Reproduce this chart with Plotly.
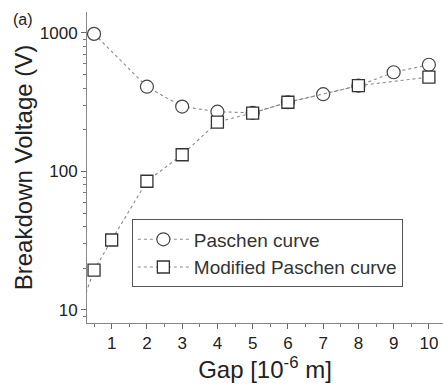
import plotly.graph_objects as go

gap_paschen = [0.5, 2, 3, 4, 5, 6, 7, 8, 9, 10]
volt_paschen = [984, 409, 294, 270, 265, 316, 361, 416, 520, 589]

gap_modified = [0.1, 0.5, 1, 2, 3, 4, 5, 6, 8, 10]
volt_modified = [10, 19.4, 32, 85, 132, 227, 264, 316, 416, 480]

x_ticks = [1, 2, 3, 4, 5, 6, 7, 8, 9, 10]
y_ticks = [10, 100, 1000]

FONT = "Liberation Sans, Arial, sans-serif"
line_style = dict(color="#8a8a8a", width=1.1, dash="dot")

fig = go.Figure()
fig.add_trace(go.Scatter(
    x=gap_paschen, y=volt_paschen, mode="lines+markers", name="Paschen curve",
    line=line_style,
    marker=dict(symbol="circle", size=13, color="white", line=dict(color="#444", width=1.2)),
))
fig.add_trace(go.Scatter(
    x=gap_modified, y=volt_modified, mode="lines+markers", name="Modified Paschen curve",
    line=line_style,
    marker=dict(symbol="square", size=12, color="white", line=dict(color="#333", width=1.3)),
))

fig.update_layout(
    width=443, height=385,
    margin=dict(l=87, r=0, t=12, b=62, autoexpand=False),
    paper_bgcolor="white", plot_bgcolor="white",
    font=dict(family=FONT, color="#222"),
    showlegend=True,
    legend=dict(
        x=0.126, y=0.333, xanchor="left", yanchor="top",
        bordercolor="#555", borderwidth=1, bgcolor="white",
        font=dict(size=19, color="#333", family=FONT),
        itemwidth=51, tracegroupgap=0,
    ),
    xaxis=dict(
        range=[0.3, 10.4], showline=True, linecolor="#888", linewidth=1,
        showgrid=False, zeroline=False, automargin=False,
        tickmode="array", tickvals=x_ticks, ticks="outside", ticklen=5,
        tickcolor="#666", tickfont=dict(size=17, color="#222"),
        minor=dict(ticks="outside", ticklen=3, dtick=0.5, tick0=0.5, tickcolor="#777", showgrid=False),
        title=dict(text="Gap [10<sup>-6</sup> m]", font=dict(size=24, color="#222"), standoff=6),
    ),
    yaxis=dict(
        type="log", range=[0.906, 3.151], showline=True, linecolor="#888", linewidth=1,
        showgrid=False, zeroline=False, automargin=False,
        tickmode="array", tickvals=y_ticks, ticks="outside", ticklen=5,
        tickcolor="#666", tickfont=dict(size=17, color="#222"),
        minor=dict(ticks="outside", ticklen=3, dtick="D1", tickcolor="#777", showgrid=False),
        title=dict(text="Breakdown Voltage (V)", font=dict(size=24, color="#222"), standoff=0),
    ),
    annotations=[dict(
        text="(a)", xref="paper", yref="paper", x=-0.18, y=0.977,
        xanchor="center", yanchor="middle", showarrow=False,
        font=dict(size=16, color="#222", family=FONT),
    )],
)

fig.write_html(
    "out.html",
    config={"displayModeBar": False},
    post_script="document.body.style.margin='0';document.body.style.overflow='hidden';",
)
